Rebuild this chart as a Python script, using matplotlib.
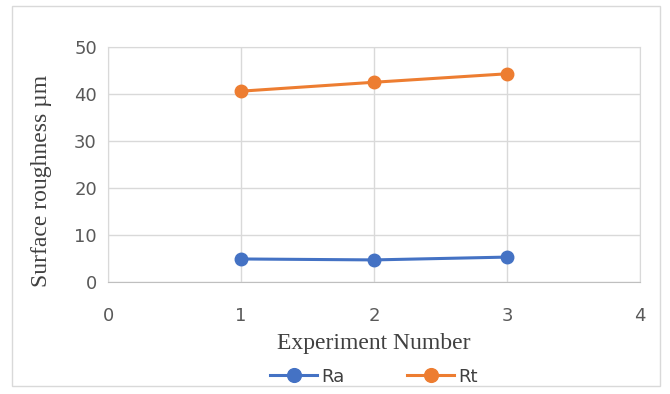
import matplotlib.pyplot as plt
from matplotlib.patches import Rectangle

experiments = [1, 2, 3]
ra = [4.9, 4.7, 5.3]
rt = [40.6, 42.5, 44.3]
xticks = [0, 1, 2, 3, 4]
yticks = [0, 10, 20, 30, 40, 50]

fig = plt.figure(figsize=(6.7, 3.94), dpi=100)
ax = fig.add_axes([108/670, 1 - 282/394, 532/670, 235/394])

# outer chart border
fig.patches.append(Rectangle((12/670, 1 - 386/394), 648/670, 380/394,
                             transform=fig.transFigure, fill=False,
                             edgecolor='#d9d9d9', linewidth=1))

ax.plot(experiments, ra, color='#4472c4', marker='o', markersize=9, linewidth=2.2, label='Ra')
ax.plot(experiments, rt, color='#ed7d31', marker='o', markersize=9, linewidth=2.2, label='Rt')

ax.set_xlim(0, 4)
ax.set_ylim(0, 50)
ax.set_xticks(xticks)
ax.set_yticks(yticks)
ax.grid(True, color='#d9d9d9', linewidth=1)
ax.set_axisbelow(True)
for s in ax.spines.values():
    s.set_color('#d9d9d9')
ax.spines['bottom'].set_color('#bfbfbf')
ax.tick_params(length=0, labelsize=13, labelcolor='#595959')
ax.tick_params(axis='x', pad=18)
ax.tick_params(axis='y', pad=8)

ax.set_xlabel('Experiment Number', family='Liberation Serif', fontsize=17, color='#404040', labelpad=6)
ax.set_ylabel('Surface roughness µm', family='Liberation Serif', fontsize=17, color='#404040')
ax.yaxis.set_label_coords(-0.105, 0.43)

leg = ax.legend(loc='upper center', bbox_to_anchor=(0.5, -0.295), ncol=2, frameon=False,
                prop={'size': 13}, markerscale=1.1,
                handlelength=2.6, columnspacing=3.5, handletextpad=0.2)
for t in leg.get_texts():
    t.set_color('#404040')

fig.savefig('out.png', dpi=100)
